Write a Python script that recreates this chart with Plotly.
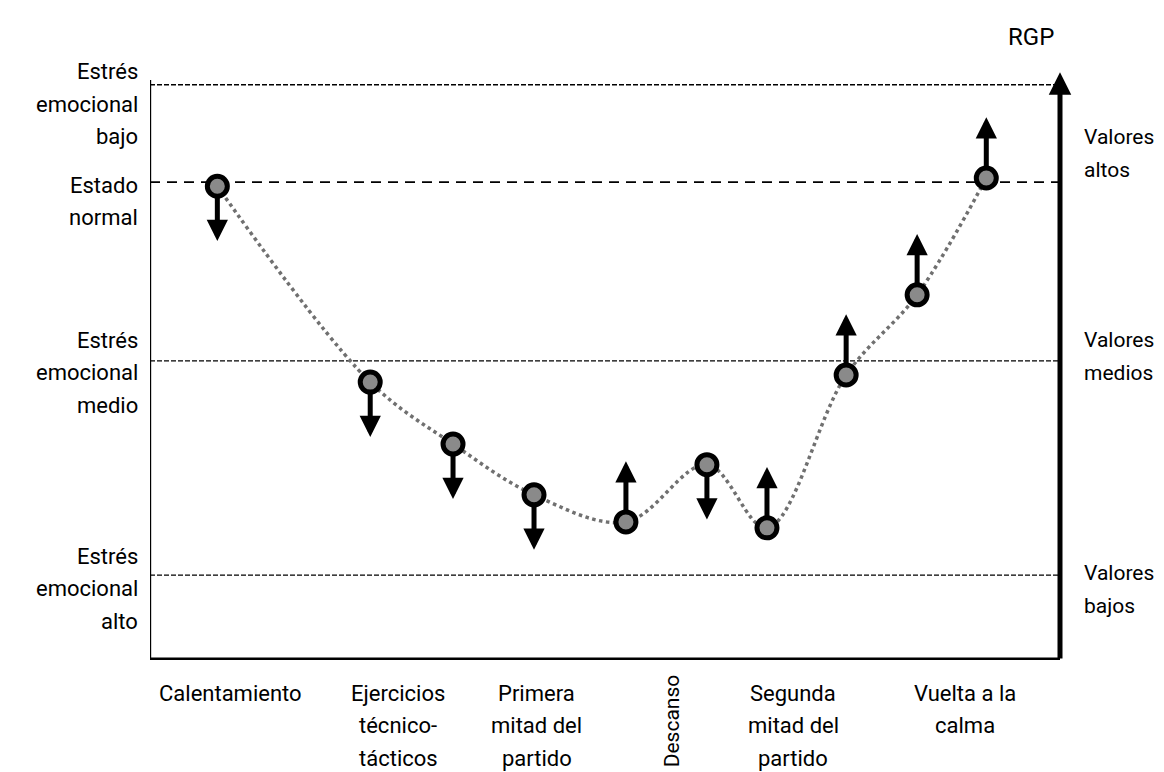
import plotly.graph_objects as go

# ---------------- data ----------------
stage_x = [7.4, 24.2, 33.3, 42.2, 52.3, 61.2, 67.8, 76.5, 84.3, 91.9]
rgp_values = [80.3, 47.1, 36.6, 28.0, 23.4, 33.1, 22.4, 48.3, 61.9, 81.7]
trend = ["down", "down", "down", "down", "up", "down", "up", "up", "up", "up"]

level_values = [97.5, 81.0, 50.7, 14.4]
level_labels_left = [["Estrés", "emocional", "bajo"], ["Estado", "normal"],
                     ["Estrés", "emocional", "medio"], ["Estrés", "emocional", "alto"]]
level_label_left_y = [99.7, 80.5, 54.2, 17.6]      # first-line position

right_labels = [["Valores", "altos"], ["Valores", "medios"], ["Valores", "bajos"]]
right_label_y = [88.6, 54.2, 14.7]                 # first-line position

category_labels = [["Calentamiento"], ["Ejercicios", "técnico-", "tácticos"],
                   ["Primera", "mitad del", "partido"], ["Descanso"],
                   ["Segunda", "mitad del", "partido"], ["Vuelta a la", "calma"]]
category_x = [8.9, 27.3, 42.5, 57.4, 70.7, 89.6]
category_angle = [0, 0, 0, -90, 0, 0]

axis_title = "RGP"

# ---------------- figure ----------------
FONT = "Roboto"
FS = 22
LINE_PX = 32.5
fig = go.Figure()

# dotted trend curve
fig.add_trace(go.Scatter(
    x=stage_x, y=rgp_values, mode="lines",
    line=dict(shape="spline", smoothing=1.0, dash="dot", color="#707070", width=3.5),
    hoverinfo="skip", cliponaxis=False))

# points
fig.add_trace(go.Scatter(
    x=stage_x, y=rgp_values, mode="markers",
    marker=dict(size=20, color="#8a8a8a", line=dict(color="black", width=5)),
    cliponaxis=False))

# reference dashed lines
for i, lv in enumerate(level_values):
    if i == 1:
        fig.add_shape(type="line", x0=0, x1=100, y0=lv, y1=lv, xref="x", yref="y",
                      line=dict(color="black", width=1.8, dash="10px,7px"), layer="below")
    else:
        fig.add_shape(type="line", x0=0, x1=100.5 if i == 0 else 100, y0=lv, y1=lv,
                      xref="x", yref="y",
                      line=dict(color="black", width=1.3, dash="5px,2px"), layer="below")

# axes frame
fig.add_shape(type="line", x0=-0.2, x1=-0.2, y0=0, y1=98.3, xref="x", yref="y",
              line=dict(color="black", width=6))
fig.add_shape(type="line", x0=-0.5, x1=100.3, y0=0, y1=0, xref="x", yref="y",
              line=dict(color="black", width=5))

annotations = []
# right axis arrow
annotations.append(dict(x=100, y=99.6, ax=100, ay=0, xref="x", yref="y",
                        axref="x", ayref="y", text="", showarrow=True,
                        arrowhead=2, arrowsize=0.9, arrowwidth=5, arrowcolor="black",
                        standoff=0, startstandoff=0))

# trend arrows at each point
for xv, yv, d in zip(stage_x, rgp_values, trend):
    tip = yv - 9.3 if d == "down" else yv + 10.3
    annotations.append(dict(x=xv, y=tip, ax=xv, ay=yv, xref="x", yref="y",
                            axref="x", ayref="y", text="", showarrow=True,
                            arrowhead=2, arrowsize=0.85, arrowwidth=5,
                            arrowcolor="black", standoff=0, startstandoff=10))


def add_lines(lines, x, y, xanchor, xshift=0, yshift0=0, angle=0, size=FS):
    for k, ln in enumerate(lines):
        annotations.append(dict(x=x, y=y, xref="x", yref="y", text=ln, showarrow=False,
                                xanchor=xanchor, yanchor="middle", textangle=angle,
                                xshift=xshift, yshift=yshift0 - k * LINE_PX,
                                font=dict(family=FONT, size=size, color="black")))


# left labels
for lines, yv in zip(level_labels_left, level_label_left_y):
    add_lines(lines, 0, yv, "right", xshift=-10)

# right labels
for lines, yv in zip(right_labels, right_label_y):
    add_lines(lines, 100, yv, "left", xshift=22, size=21)

annotations.append(dict(x=100, y=100, xref="x", yref="y", text=axis_title, showarrow=False,
                        xanchor="center", yanchor="middle", xshift=-29, yshift=33,
                        font=dict(family=FONT, size=24, color="black")))

# category labels
for lines, xv, ang in zip(category_labels, category_x, category_angle):
    if ang == 0:
        add_lines(lines, xv, 0, "center", yshift0=-33)
    else:
        add_lines(lines, xv, 0, "center", yshift0=-61, angle=ang, size=21)

fig.update_layout(
    width=1156, height=764,
    margin=dict(l=142, r=104, t=62, b=112),
    paper_bgcolor="white", plot_bgcolor="white",
    showlegend=False,
    xaxis=dict(range=[0, 100], visible=False, fixedrange=True),
    yaxis=dict(range=[0, 100], visible=False, fixedrange=True),
    annotations=annotations,
)

fig.write_html("out.html")
